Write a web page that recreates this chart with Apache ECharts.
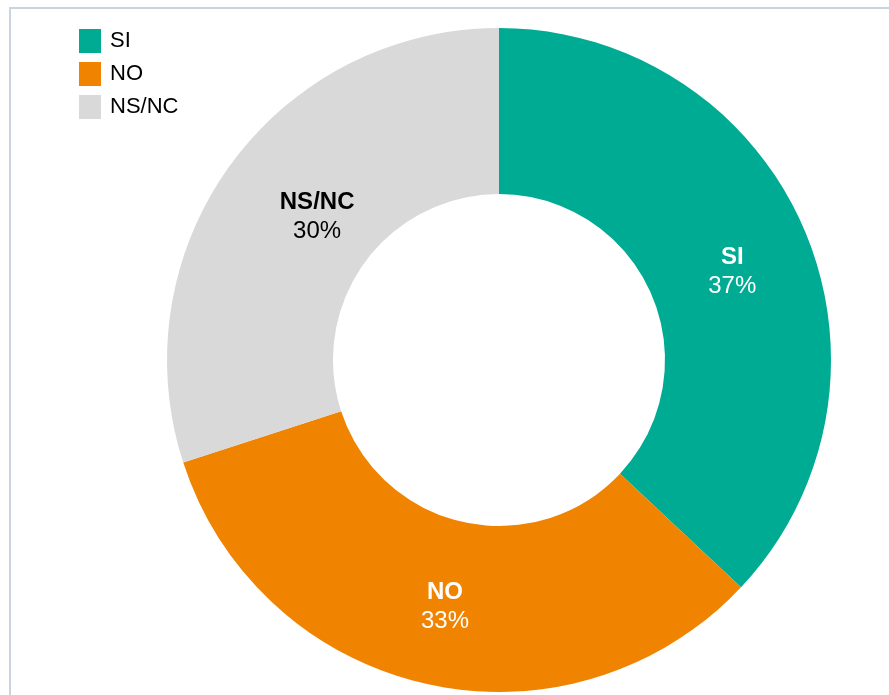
<!DOCTYPE html>
<html>
<head>
<meta charset="utf-8">
<style>
  html, body { margin: 0; padding: 0; background: #ffffff; }
  #chart { width: 889px; height: 695px; }
</style>
<script src="https://cdn.jsdelivr.net/npm/echarts@6/dist/echarts.min.js"></script>
</head>
<body>
<div id="chart"></div>
<script>
// Answer categories and their shares (%)
const categories = ['SI', 'NO', 'NS/NC'];
const shares = [37, 33, 30];
const colors = ['#00AB94', '#F08400', '#D9D9D9'];
const labelColors = ['#ffffff', '#ffffff', '#000000'];
// small nudges of the inside labels
const labelOffsets = [[2, 12], [1, 1], [22, 5]];

const FONT = '"Liberation Sans", Arial, sans-serif';

const chart = echarts.init(document.getElementById('chart'), null, { renderer: 'canvas' });

const seriesData = categories.map((name, i) => ({
  name: name,
  value: shares[i],
  itemStyle: { color: colors[i] },
  label: {
    offset: labelOffsets[i],
    rich: {
      n: { fontFamily: FONT, fontSize: 24, fontWeight: 'bold', color: labelColors[i], lineHeight: 29 },
      v: { fontFamily: FONT, fontSize: 24, color: labelColors[i], lineHeight: 29 }
    }
  }
}));

chart.setOption({
  animation: false,
  backgroundColor: '#ffffff',
  graphic: [{
    type: 'rect',
    shape: { x: 10, y: 8, width: 900, height: 720 },
    style: { fill: 'none', stroke: '#CAD4DE', lineWidth: 2 },
    silent: true
  }],
  legend: {
    orient: 'vertical',
    left: 79,
    top: 29,
    padding: 0,
    itemWidth: 22,
    itemHeight: 24,
    itemGap: 9,
    icon: 'rect',
    data: categories,
    textStyle: { fontFamily: FONT, fontSize: 22, color: '#000000', padding: [0, 0, 0, 4] }
  },
  series: [{
    type: 'pie',
    center: [499, 360],
    radius: [166, 332],
    startAngle: 90,
    clockwise: true,
    avoidLabelOverlap: false,
    emphasis: { scale: false },
    label: {
      show: true,
      position: 'inside',
      formatter: p => '{n|' + p.name + '}\n{v|' + p.value + '%}'
    },
    labelLine: { show: false },
    data: seriesData
  }]
});
</script>
</body>
</html>
